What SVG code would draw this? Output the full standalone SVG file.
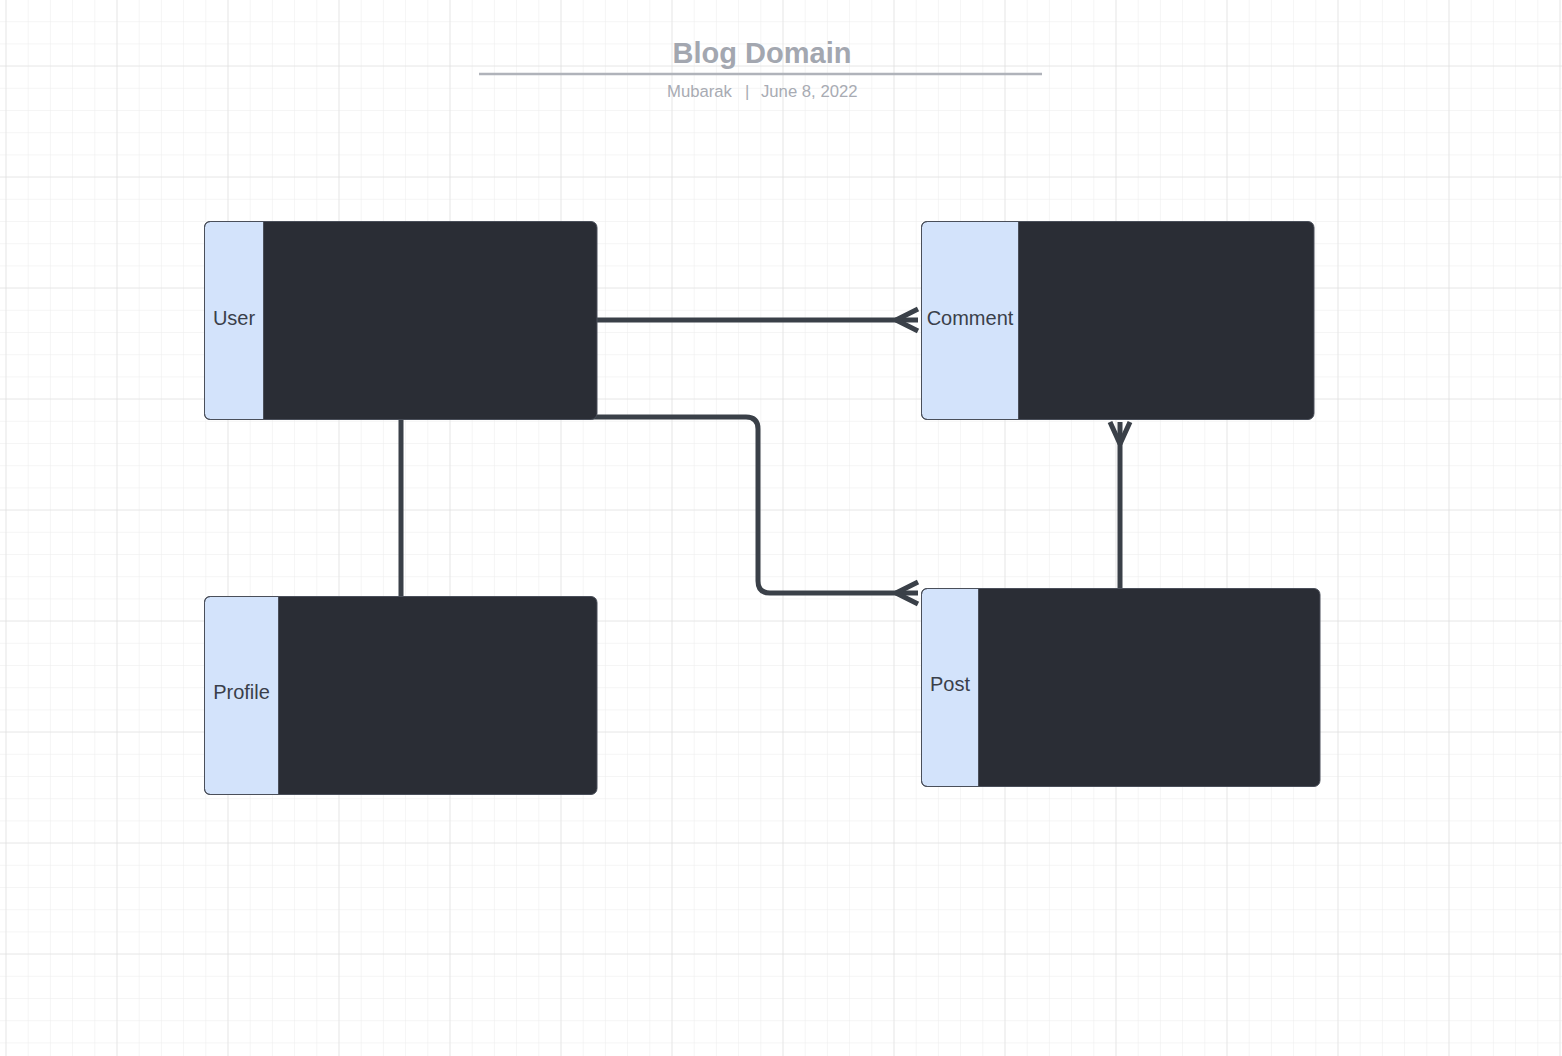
<svg xmlns="http://www.w3.org/2000/svg" width="1562" height="1056" viewBox="0 0 1562 1056">
<defs>
<pattern id="minor" patternUnits="userSpaceOnUse" x="5.5" y="-1" width="22.2" height="22.2">
<path d="M0 0 H22.2 M0 0 V22.2" fill="none" stroke="#ececec" stroke-width="1"/>
</pattern>
<pattern id="major" patternUnits="userSpaceOnUse" x="5.5" y="-45.5" width="111" height="111">
<path d="M0 0 H111 M0 0 V111" fill="none" stroke="#dcdcdc" stroke-width="1"/>
</pattern>
<style>
.band{fill:#d3e3fb;stroke:#4a4f5a;stroke-width:1}
.body{fill:#2a2d35}
.outline{fill:none;stroke:#4a4f5a;stroke-width:1}
.lbl{font-family:"Liberation Sans",Arial,sans-serif;font-size:20px;fill:#3a3f4a;text-anchor:middle;dominant-baseline:central}
.conn{fill:none;stroke:#3a4048;stroke-width:5;stroke-linecap:butt;stroke-linejoin:round}
.sub{font-family:"Liberation Sans",Arial,sans-serif;font-size:16.7px;fill:#a8abb3}
</style>
</defs>
<rect width="1562" height="1056" fill="#ffffff"/>
<rect width="1562" height="1056" fill="url(#minor)"/>
<rect width="1562" height="1056" fill="url(#major)"/>

<g id="title">
<text x="762" y="63" text-anchor="middle" font-family="'Liberation Sans',Arial,sans-serif" font-weight="bold" font-size="29" fill="#a3a7b0">Blog Domain</text>
<line x1="479" y1="74" x2="1042" y2="74" stroke="#b0b3ba" stroke-width="2.5"/>
<text class="sub" x="667" y="97">Mubarak</text>
<text class="sub" x="745" y="97">|</text>
<text class="sub" x="761" y="97">June 8, 2022</text>
</g>

<g id="connectors">
<path class="conn" d="M597 320 H918"/>
<path class="conn" d="M896 320 L918 309 M896 320 L918 331"/>
<path class="conn" d="M592 417 H746 Q758 417 758 429 V581 Q758 593 770 593 H918"/>
<path class="conn" d="M896 593 L918 582 M896 593 L918 604"/>
<path class="conn" d="M401 419 V596"/>
<path class="conn" d="M1120 588 V422"/>
<path class="conn" d="M1120 444 L1110 422 M1120 444 L1130 422"/>
</g>

<g id="user">
<rect class="body" x="204.5" y="221.5" width="392.5" height="198" rx="6"/>
<path class="band" d="M263.5 221.5 H210.5 Q204.5 221.5 204.5 227.5 V413.5 Q204.5 419.5 210.5 419.5 H263.5 Z"/>
<rect class="outline" x="204.5" y="221.5" width="392.5" height="198" rx="6"/>
<text class="lbl" x="234" y="318">User</text>
</g>

<g id="comment">
<rect class="body" x="921.5" y="221.5" width="392.5" height="198" rx="6"/>
<path class="band" d="M1018.5 221.5 H927.5 Q921.5 221.5 921.5 227.5 V413.5 Q921.5 419.5 927.5 419.5 H1018.5 Z"/>
<rect class="outline" x="921.5" y="221.5" width="392.5" height="198" rx="6"/>
<text class="lbl" x="970" y="318">Comment</text>
</g>

<g id="profile">
<rect class="body" x="204.5" y="596.5" width="392.5" height="198" rx="6"/>
<path class="band" d="M278.5 596.5 H210.5 Q204.5 596.5 204.5 602.5 V788.5 Q204.5 794.5 210.5 794.5 H278.5 Z"/>
<rect class="outline" x="204.5" y="596.5" width="392.5" height="198" rx="6"/>
<text class="lbl" x="241.5" y="692">Profile</text>
</g>

<g id="post">
<rect class="body" x="921.5" y="588.5" width="398.5" height="198" rx="6"/>
<path class="band" d="M978.5 588.5 H927.5 Q921.5 588.5 921.5 594.5 V780.5 Q921.5 786.5 927.5 786.5 H978.5 Z"/>
<rect class="outline" x="921.5" y="588.5" width="398.5" height="198" rx="6"/>
<text class="lbl" x="950" y="684">Post</text>
</g>
</svg>
